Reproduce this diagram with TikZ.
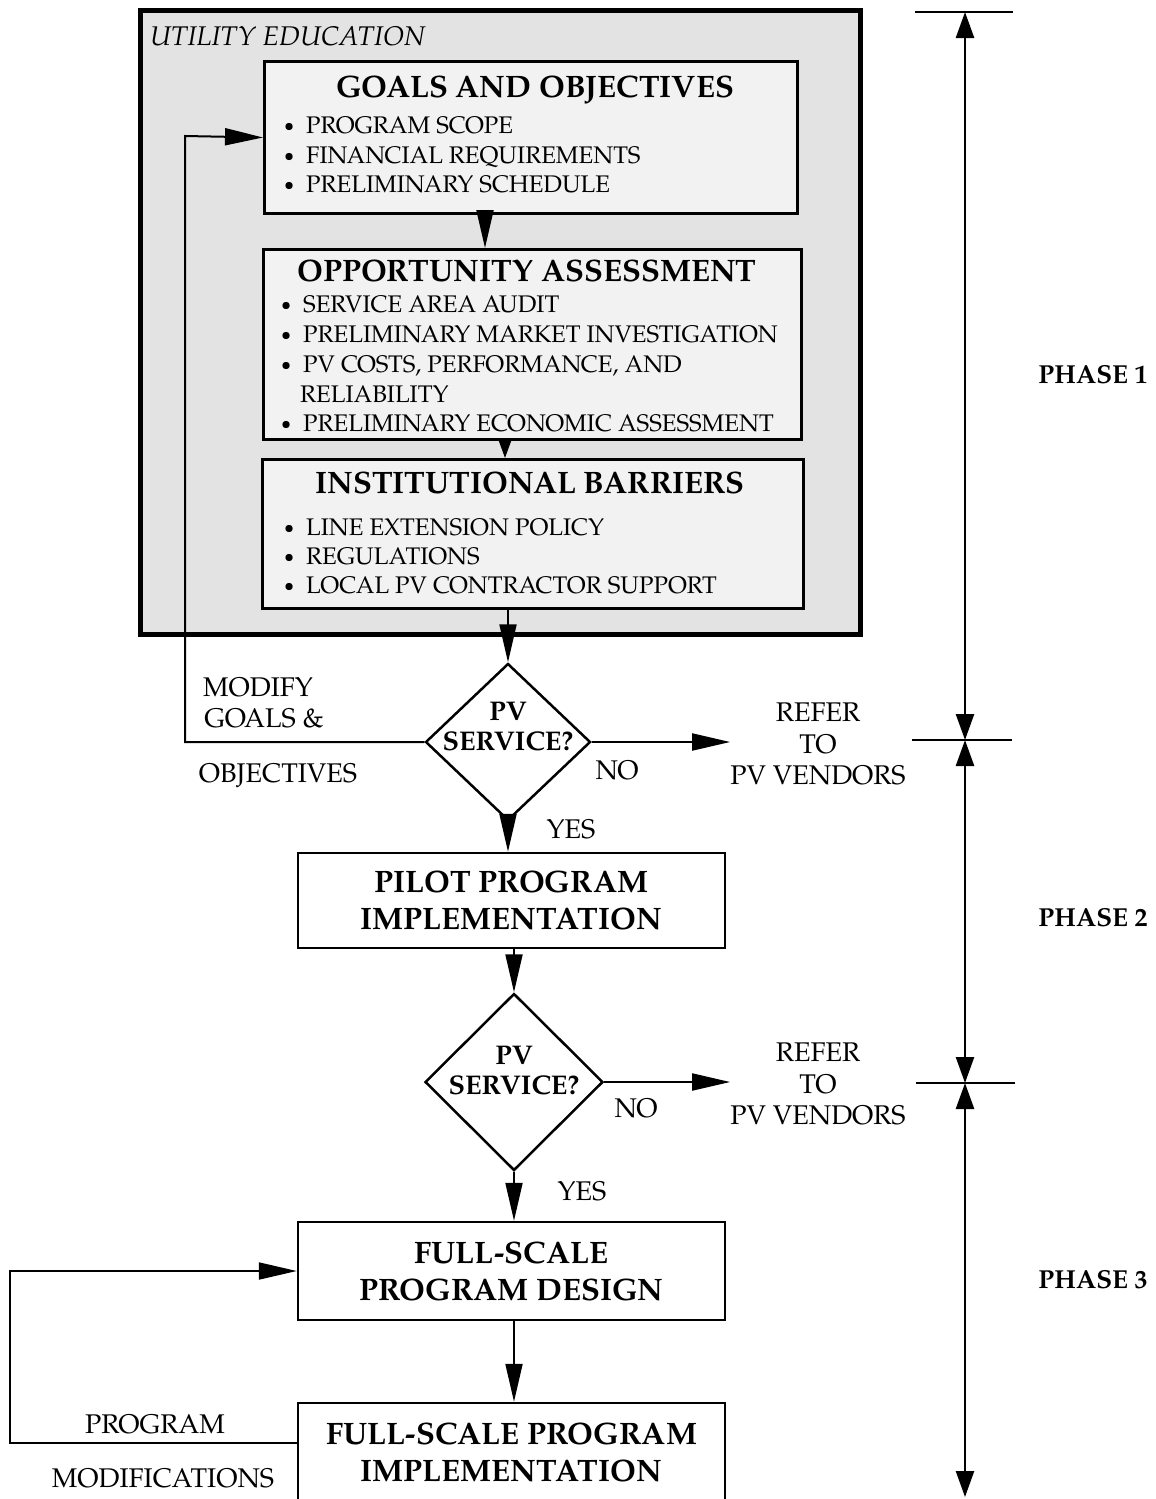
\documentclass[tikz,border=0pt]{standalone}
\usepackage{fontspec}
\setmainfont{TeX Gyre Pagella}
\usetikzlibrary{arrows.meta,shapes.geometric,calc}

% small round bullet used in the box lists
\newcommand{\bul}{\makebox[22pt][l]{\raisebox{1.5pt}{\fontsize{18}{18}\selectfont\textbullet}}}

\begin{document}
\begin{tikzpicture}[x=1pt,y=-1pt,
  flow/.style={line width=2pt},
  arr/.style={flow,-{Triangle[length=38pt,width=17pt]}},
  shortarr/.style={flow,-{Triangle[length=20pt,width=14pt]}},
  span/.style={line width=2.5pt,{Triangle[length=26pt,width=18pt]}-{Triangle[length=26pt,width=18pt]}},
  tickline/.style={line width=2pt},
  panel/.style={draw,line width=4.5pt,fill=black!11,anchor=north west,inner sep=0pt},
  stepbox/.style={draw,line width=3pt,fill=black!5,anchor=north west,inner sep=0pt},
  plainbox/.style={draw,line width=2.5pt,fill=white,align=center,inner sep=0pt,
    font=\fontsize{31}{37}\selectfont\bfseries},
  decision/.style={draw,diamond,line width=2.5pt,inner sep=0pt,fill=white},
  dtext/.style={inner sep=0pt,align=center,font=\fontsize{27}{30}\selectfont\bfseries},
  boxtitle/.style={anchor=base,inner sep=0pt,font=\fontsize{31}{36}\selectfont\bfseries},
  entry/.style={anchor=base west,inner sep=0pt,font=\fontsize{24}{28}\selectfont},
  lbl/.style={inner sep=0pt,font=\fontsize{27}{31.5}\selectfont,align=center},
  phaselbl/.style={inner sep=0pt,font=\fontsize{26}{30}\selectfont\bfseries}
]
\useasboundingbox (0,0) rectangle (1156,1499);
\clip (0,0) rectangle (1156,1499);

% ---------- Phase 1 panel ----------
\node[panel,minimum width=720pt,minimum height=624pt] (edu) at (138,8) {};
\node[anchor=base west,inner sep=0pt,font=\fontsize{27}{30}\selectfont\itshape] (edutitle) at (150,45) {UTILITY EDUCATION};

\node[stepbox,minimum width=533pt,minimum height=152pt] (goals) at (263,60) {};
\node[boxtitle] (goalsT) at (535,97) {GOALS AND OBJECTIVES};
\node[entry] (g1) at (284,133) {\bul PROGRAM SCOPE};
\node[entry] (g2) at (284,163) {\bul FINANCIAL REQUIREMENTS};
\node[entry] (g3) at (284,192) {\bul PRELIMINARY SCHEDULE};

\node[stepbox,minimum width=538pt,minimum height=190pt] (opp) at (262,248) {};
\node[boxtitle] (oppT) at (527,281) {OPPORTUNITY ASSESSMENT};
\node[entry] (o1) at (281,312) {\bul SERVICE AREA AUDIT};
\node[entry] (o2) at (281,342) {\bul PRELIMINARY MARKET INVESTIGATION};
\node[entry] (o3) at (281,372) {\bul PV COSTS, PERFORMANCE, AND};
\node[entry] (o4) at (300,402) {RELIABILITY};
\node[entry] (o5) at (281,431) {\bul PRELIMINARY ECONOMIC ASSESSMENT};

\node[stepbox,minimum width=541pt,minimum height=149pt] (inst) at (261,458) {};
\node[boxtitle] (instT) at (530,493) {INSTITUTIONAL BARRIERS};
\node[entry] (i1) at (284,535) {\bul LINE EXTENSION POLICY};
\node[entry] (i2) at (284,564) {\bul REGULATIONS};
\node[entry] (i3) at (284,593) {\bul LOCAL PV CONTRACTOR SUPPORT};

% ---------- decisions and program boxes ----------
\node[decision,minimum width=165pt,minimum height=157pt] (d1) at (508,742) {};
\node[dtext] (d1t) at (508,727) {PV\\SERVICE?};

\node[plainbox,minimum width=427pt,minimum height=95pt] (pilot) at (511.5,900.5) {PILOT PROGRAM\\IMPLEMENTATION};

\node[decision,minimum width=178pt,minimum height=177pt] (d2) at (514,1082) {};
\node[dtext] (d2t) at (514,1071) {PV\\SERVICE?};

\node[plainbox,minimum width=427pt,minimum height=98pt] (fsd) at (511.5,1271) {FULL-SCALE\\PROGRAM DESIGN};
\node[plainbox,minimum width=427pt,minimum height=99pt] (fsi) at (511.5,1452.5) {FULL-SCALE PROGRAM\\IMPLEMENTATION};

% ---------- side labels ----------
\node[lbl] (ref1) at (818,744) {REFER\\TO\\PV VENDORS};
\node[lbl] (ref2) at (818,1084) {REFER\\TO\\PV VENDORS};
\node[lbl] (modA) at (258,687) {MODIFY};
\node[lbl] (modB) at (264,718) {GOALS \&};
\node[lbl] (modC) at (278,776) {OBJECTIVES};
\node[lbl] (no1) at (617,770) {NO};
\node[lbl] (yes1) at (571,829) {YES};
\node[lbl] (no2) at (636,1108) {NO};
\node[lbl] (yes2) at (582,1191) {YES};
\node[lbl] (pmA) at (155,1424) {PROGRAM};
\node[lbl] (pmB) at (163,1478) {MODIFICATIONS};

% ---------- flow connectors ----------
\draw[arr] (goals.south -| 485,0) -- (opp.north -| 485,0);
\draw[shortarr] (opp.south -| 505,0) -- (inst.north -| 505,0);
\draw[arr] (inst.south -| d1.north) -- (d1.north);
\coordinate (fbtop) at (185,136);
\draw[arr] (d1.west) -| (fbtop) -- (goals.west);
\draw[arr] (d1.east) -- (d1.east -| ref1.west);
\draw[arr] (d1.south) -- (pilot.north -| d1.south);
\draw[arr] (pilot.south -| d2.north) -- (d2.north);
\draw[arr] (d2.east) -- (d2.east -| ref2.west);
\draw[arr] (d2.south) -- (fsd.north -| d2.south);
\draw[arr] (fsd.south -| d2.south) -- (fsi.north -| d2.south);
\coordinate (lpfrom) at ($(fsi.west)+(0,-10)$);
\coordinate (lpcorner) at (10,1271);
\draw[arr] (lpfrom) -| (lpcorner) -- (fsd.west);

% ---------- phase scale ----------
\coordinate (P0) at (965,12);
\coordinate (P1) at (965,740);
\coordinate (P2) at (965,1083);
\coordinate (P3) at (965,1497);
\draw[tickline] ($(P0)+(-50,0)$) -- ($(P0)+(48,0)$);
\draw[tickline] ($(P1)+(-53,0)$) -- ($(P1)+(47,0)$);
\draw[tickline] ($(P2)+(-49,0)$) -- ($(P2)+(50,0)$);
\draw[span] (P0) -- (P1);
\draw[span] (P1) -- (P2);
\draw[span] (P2) -- (P3);
\node[phaselbl] (ph1) at (1093,375) {PHASE 1};
\node[phaselbl] (ph2) at (1093,918) {PHASE 2};
\node[phaselbl] (ph3) at (1093,1280) {PHASE 3};
\end{tikzpicture}
\end{document}
